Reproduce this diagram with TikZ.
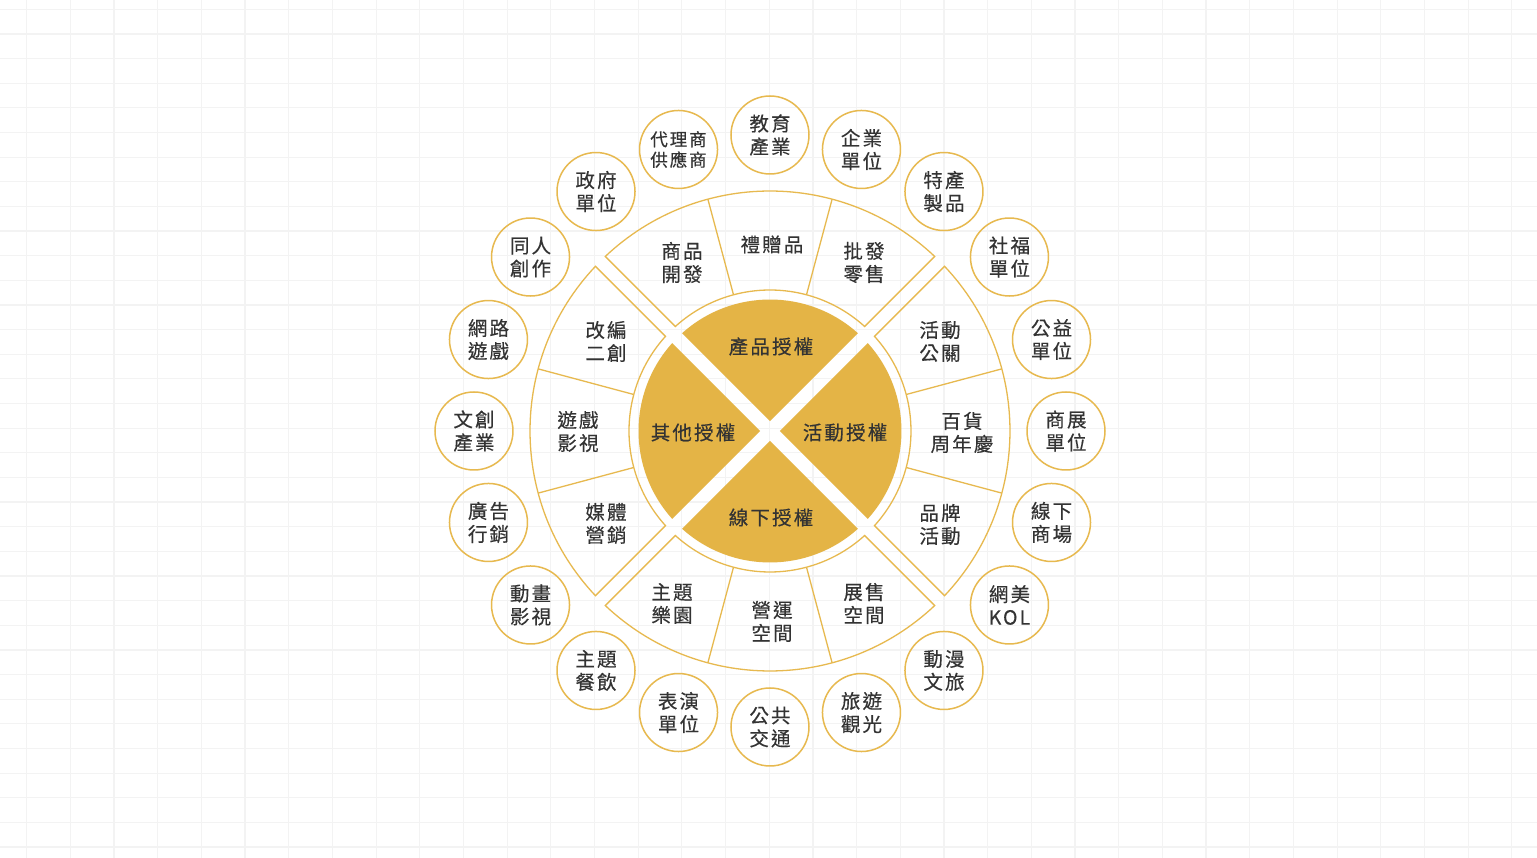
\documentclass[tikz,border=0pt]{standalone}
\usepackage{fontspec}
\newfontfamily\cjkfont[LetterSpace=11, FakeBold=0.4]{Noto Sans CJK TC}
\definecolor{gold}{HTML}{E4B446}
\definecolor{goldline}{HTML}{E7B94F}
\definecolor{txt}{HTML}{333333}
\definecolor{gridc}{HTML}{F3F3F3}
\tikzset{
  gridline/.style={draw=gridc, line width=1.2pt},
  ringline/.style={draw=goldline, line width=1.3pt, line join=miter},
  goldfill/.style={fill=gold},
  lbl/.style={inner sep=0pt, align=center, text=txt, yshift=-1.5pt, font=\cjkfont\fontsize{19.5}{23}\selectfont},
  outc/.style={circle, draw=goldline, line width=1.5pt, minimum size=78pt, inner sep=0pt, align=center, text=txt, font=\cjkfont\fontsize{19.5}{23}\selectfont},
  smalltext/.style={font=\cjkfont\fontsize{17.5}{20.5}\selectfont}
}
\begin{document}
\begin{tikzpicture}[x=1pt,y=1pt]
\useasboundingbox[fill=white] (-770,-427) rectangle (767,431);
% background grid
\foreach \i in {0,...,34} {
  \draw[gridline] ({26.7+43.68*\i-770},-427) -- ++(0,858);
  \draw[gridline] (-770,{431-9.3-24.64*\i}) -- ++(1537,0);
}
% gold disk quadrants and ring segments
\foreach \c in {90,0,-90,180} {
  \fill[goldfill, rotate={\c-90}] (0,9.9) -- (48.05:131.5) arc[start angle=48.05, end angle=131.95, radius=131.5] -- cycle;
  \draw[ringline, rotate={\c-90}] (46.67:240) arc[start angle=46.67, end angle=133.33, radius=240] -- (132.15:141) arc[start angle=132.15, end angle=47.85, radius=141] -- cycle;
  \draw[ringline, rotate={\c-90}] (75:141) -- (75:240);
  \draw[ringline, rotate={\c-90}] (105:141) -- (105:240);
}
% centre labels
\node[lbl] (g1) at (1,86) {產品授權};
\node[lbl] (g2) at (75,0) {活動授權};
\node[lbl] (g3) at (1,-85) {線下授權};
\node[lbl] (g4) at (-77,0) {其他授權};
% ring labels
\node[lbl] (r1) at (-88,170) {商品\\開發};
\node[lbl] (r2) at (2,188) {禮贈品};
\node[lbl] (r3) at (94,170) {批發\\零售};
\node[lbl] (r4) at (170,91) {活動\\公關};
\node[lbl] (r5) at (192,0) {百貨\\周年慶};
\node[lbl] (r6) at (170,-92) {品牌\\活動};
\node[lbl] (r7) at (94,-171) {展售\\空間};
\node[lbl] (r8) at (2,-189) {營運\\空間};
\node[lbl] (r9) at (-98,-171) {主題\\樂園};
\node[lbl] (r10) at (-164,-91) {媒體\\營銷};
\node[lbl] (r11) at (-192,1) {遊戲\\影視};
\node[lbl] (r12) at (-164,91) {改編\\二創};
% outer circles
\node[outc] (o1) at (90:296) {教育\\產業};
\node[outc] (o2) at (72:296) {企業\\單位};
\node[outc] (o3) at (54:296) {特產\\製品};
\node[outc] (o4) at (36:296) {社福\\單位};
\node[outc] (o5) at (18:296) {公益\\單位};
\node[outc] (o6) at (0:296) {商展\\單位};
\node[outc] (o7) at (-18:296) {線下\\商場};
\node[outc] (o8) at (-36:296) {網美\\KOL};
\node[outc] (o9) at (-54:296) {動漫\\文旅};
\node[outc] (o10) at (-72:296) {旅遊\\觀光};
\node[outc] (o11) at (-90:296) {公共\\交通};
\node[outc] (o12) at (-108:296) {表演\\單位};
\node[outc] (o13) at (-126:296) {主題\\餐飲};
\node[outc] (o14) at (-144:296) {動畫\\影視};
\node[outc] (o15) at (-162:296) {廣告\\行銷};
\node[outc] (o16) at (180:296) {文創\\產業};
\node[outc] (o17) at (162:296) {網路\\遊戲};
\node[outc] (o18) at (144:296) {同人\\創作};
\node[outc] (o19) at (126:296) {政府\\單位};
\node[outc, smalltext] (o20) at (108:296) {代理商\\供應商};
\end{tikzpicture}
\end{document}
